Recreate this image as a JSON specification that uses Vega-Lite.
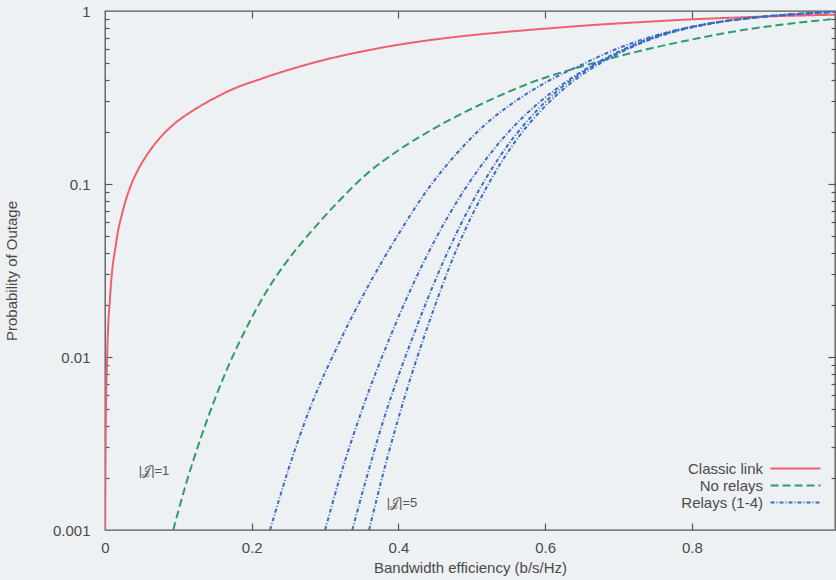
{
  "$schema": "https://vega.github.io/schema/vega-lite/v6.json",
  "width": 730,
  "height": 519,
  "autosize": {"type": "none"},
  "padding": {"left": 105, "top": 11, "right": 1, "bottom": 50},
  "background": "#eef1f4",
  "config": {
    "view": {"stroke": "#555555", "strokeWidth": 1.3},
    "font": "Liberation Sans",
    "axis": {
      "grid": false,
      "domain": false,
      "tickColor": "#555555",
      "tickWidth": 1.2,
      "labelColor": "#4a4a4a",
      "labelFontSize": 15,
      "labelFont": "Liberation Sans",
      "titleColor": "#4a4a4a",
      "titleFontSize": 15,
      "titleFont": "Liberation Sans",
      "titleFontWeight": "normal",
      "labelOverlap": false,
      "labelBound": false,
      "labelFlush": false
    },
    "legend": {
      "orient": "none",
      "legendX": 683,
      "legendY": 450,
      "padding": 0,
      "rowPadding": 1,
      "labelFontSize": 15,
      "labelFont": "Liberation Sans",
      "labelColor": "#4a4a4a",
      "labelAlign": "right",
      "labelOffset": -40,
      "symbolType": "M-5,0H5",
      "symbolSize": 100,
      "symbolStrokeWidth": 2
    }
  },
  "datasets": {
    "curves": [
      {"s": "Classic link", "c": "red", "x": 0.00024, "p": 0.001},
      {"s": "Classic link", "c": "red", "x": 0.001, "p": 0.0037},
      {"s": "Classic link", "c": "red", "x": 0.003, "p": 0.0103},
      {"s": "Classic link", "c": "red", "x": 0.007, "p": 0.0225},
      {"s": "Classic link", "c": "red", "x": 0.015, "p": 0.0452},
      {"s": "Classic link", "c": "red", "x": 0.025, "p": 0.0718},
      {"s": "Classic link", "c": "red", "x": 0.034, "p": 0.095},
      {"s": "Classic link", "c": "red", "x": 0.045, "p": 0.1207},
      {"s": "Classic link", "c": "red", "x": 0.057, "p": 0.147},
      {"s": "Classic link", "c": "red", "x": 0.075, "p": 0.185},
      {"s": "Classic link", "c": "red", "x": 0.093, "p": 0.22},
      {"s": "Classic link", "c": "red", "x": 0.12, "p": 0.266},
      {"s": "Classic link", "c": "red", "x": 0.147, "p": 0.31},
      {"s": "Classic link", "c": "red", "x": 0.18, "p": 0.362},
      {"s": "Classic link", "c": "red", "x": 0.211, "p": 0.403},
      {"s": "Classic link", "c": "red", "x": 0.24, "p": 0.443},
      {"s": "Classic link", "c": "red", "x": 0.266, "p": 0.478},
      {"s": "Classic link", "c": "red", "x": 0.30, "p": 0.523},
      {"s": "Classic link", "c": "red", "x": 0.35, "p": 0.583},
      {"s": "Classic link", "c": "red", "x": 0.40, "p": 0.638},
      {"s": "Classic link", "c": "red", "x": 0.45, "p": 0.685},
      {"s": "Classic link", "c": "red", "x": 0.50, "p": 0.725},
      {"s": "Classic link", "c": "red", "x": 0.583, "p": 0.78},
      {"s": "Classic link", "c": "red", "x": 0.675, "p": 0.835},
      {"s": "Classic link", "c": "red", "x": 0.75, "p": 0.872},
      {"s": "Classic link", "c": "red", "x": 0.80, "p": 0.895},
      {"s": "Classic link", "c": "red", "x": 0.856, "p": 0.915},
      {"s": "Classic link", "c": "red", "x": 0.92, "p": 0.935},
      {"s": "Classic link", "c": "red", "x": 0.995, "p": 0.952},

      {"s": "No relays", "c": "green", "x": 0.093, "p": 0.001},
      {"s": "No relays", "c": "green", "x": 0.11, "p": 0.00182},
      {"s": "No relays", "c": "green", "x": 0.13, "p": 0.00335},
      {"s": "No relays", "c": "green", "x": 0.15, "p": 0.00575},
      {"s": "No relays", "c": "green", "x": 0.17, "p": 0.00923},
      {"s": "No relays", "c": "green", "x": 0.19, "p": 0.01396},
      {"s": "No relays", "c": "green", "x": 0.21, "p": 0.0202},
      {"s": "No relays", "c": "green", "x": 0.23, "p": 0.0279},
      {"s": "No relays", "c": "green", "x": 0.25, "p": 0.0367},
      {"s": "No relays", "c": "green", "x": 0.28, "p": 0.0525},
      {"s": "No relays", "c": "green", "x": 0.315, "p": 0.0767},
      {"s": "No relays", "c": "green", "x": 0.36, "p": 0.1175},
      {"s": "No relays", "c": "green", "x": 0.40, "p": 0.1567},
      {"s": "No relays", "c": "green", "x": 0.45, "p": 0.2113},
      {"s": "No relays", "c": "green", "x": 0.49, "p": 0.26},
      {"s": "No relays", "c": "green", "x": 0.54, "p": 0.327},
      {"s": "No relays", "c": "green", "x": 0.583, "p": 0.389},
      {"s": "No relays", "c": "green", "x": 0.63, "p": 0.452},
      {"s": "No relays", "c": "green", "x": 0.675, "p": 0.513},
      {"s": "No relays", "c": "green", "x": 0.72, "p": 0.575},
      {"s": "No relays", "c": "green", "x": 0.80, "p": 0.684},
      {"s": "No relays", "c": "green", "x": 0.856, "p": 0.759},
      {"s": "No relays", "c": "green", "x": 0.92, "p": 0.832},
      {"s": "No relays", "c": "green", "x": 0.995, "p": 0.899},

      {"s": "Relays (1-4)", "c": "b1", "x": 0.225, "p": 0.001},
      {"s": "Relays (1-4)", "c": "b1", "x": 0.25, "p": 0.00224},
      {"s": "Relays (1-4)", "c": "b1", "x": 0.28, "p": 0.00513},
      {"s": "Relays (1-4)", "c": "b1", "x": 0.32, "p": 0.0123},
      {"s": "Relays (1-4)", "c": "b1", "x": 0.36, "p": 0.0263},
      {"s": "Relays (1-4)", "c": "b1", "x": 0.40, "p": 0.0513},
      {"s": "Relays (1-4)", "c": "b1", "x": 0.44, "p": 0.0933},
      {"s": "Relays (1-4)", "c": "b1", "x": 0.48, "p": 0.151},
      {"s": "Relays (1-4)", "c": "b1", "x": 0.52, "p": 0.224},
      {"s": "Relays (1-4)", "c": "b1", "x": 0.56, "p": 0.302},
      {"s": "Relays (1-4)", "c": "b1", "x": 0.60, "p": 0.385},
      {"s": "Relays (1-4)", "c": "b1", "x": 0.65, "p": 0.49},
      {"s": "Relays (1-4)", "c": "b1", "x": 0.70, "p": 0.61},
      {"s": "Relays (1-4)", "c": "b1", "x": 0.76, "p": 0.741},
      {"s": "Relays (1-4)", "c": "b1", "x": 0.82, "p": 0.841},
      {"s": "Relays (1-4)", "c": "b1", "x": 0.90, "p": 0.929},
      {"s": "Relays (1-4)", "c": "b1", "x": 0.995, "p": 0.989},

      {"s": "Relays (1-4)", "c": "b2", "x": 0.30, "p": 0.001},
      {"s": "Relays (1-4)", "c": "b2", "x": 0.32, "p": 0.002},
      {"s": "Relays (1-4)", "c": "b2", "x": 0.35, "p": 0.0049},
      {"s": "Relays (1-4)", "c": "b2", "x": 0.39, "p": 0.0135},
      {"s": "Relays (1-4)", "c": "b2", "x": 0.43, "p": 0.0324},
      {"s": "Relays (1-4)", "c": "b2", "x": 0.47, "p": 0.0676},
      {"s": "Relays (1-4)", "c": "b2", "x": 0.51, "p": 0.123},
      {"s": "Relays (1-4)", "c": "b2", "x": 0.55, "p": 0.1995},
      {"s": "Relays (1-4)", "c": "b2", "x": 0.59, "p": 0.2917},
      {"s": "Relays (1-4)", "c": "b2", "x": 0.63, "p": 0.3936},
      {"s": "Relays (1-4)", "c": "b2", "x": 0.67, "p": 0.501},
      {"s": "Relays (1-4)", "c": "b2", "x": 0.70, "p": 0.582},
      {"s": "Relays (1-4)", "c": "b2", "x": 0.76, "p": 0.733},
      {"s": "Relays (1-4)", "c": "b2", "x": 0.82, "p": 0.841},
      {"s": "Relays (1-4)", "c": "b2", "x": 0.90, "p": 0.929},
      {"s": "Relays (1-4)", "c": "b2", "x": 0.995, "p": 0.989},

      {"s": "Relays (1-4)", "c": "b3", "x": 0.337, "p": 0.001},
      {"s": "Relays (1-4)", "c": "b3", "x": 0.355, "p": 0.0019},
      {"s": "Relays (1-4)", "c": "b3", "x": 0.38, "p": 0.00437},
      {"s": "Relays (1-4)", "c": "b3", "x": 0.42, "p": 0.0132},
      {"s": "Relays (1-4)", "c": "b3", "x": 0.46, "p": 0.0347},
      {"s": "Relays (1-4)", "c": "b3", "x": 0.50, "p": 0.0776},
      {"s": "Relays (1-4)", "c": "b3", "x": 0.54, "p": 0.148},
      {"s": "Relays (1-4)", "c": "b3", "x": 0.58, "p": 0.243},
      {"s": "Relays (1-4)", "c": "b3", "x": 0.62, "p": 0.355},
      {"s": "Relays (1-4)", "c": "b3", "x": 0.66, "p": 0.468},
      {"s": "Relays (1-4)", "c": "b3", "x": 0.70, "p": 0.575},
      {"s": "Relays (1-4)", "c": "b3", "x": 0.76, "p": 0.73},
      {"s": "Relays (1-4)", "c": "b3", "x": 0.82, "p": 0.839},
      {"s": "Relays (1-4)", "c": "b3", "x": 0.90, "p": 0.929},
      {"s": "Relays (1-4)", "c": "b3", "x": 0.995, "p": 0.989},

      {"s": "Relays (1-4)", "c": "b4", "x": 0.36, "p": 0.001},
      {"s": "Relays (1-4)", "c": "b4", "x": 0.38, "p": 0.00219},
      {"s": "Relays (1-4)", "c": "b4", "x": 0.41, "p": 0.00617},
      {"s": "Relays (1-4)", "c": "b4", "x": 0.44, "p": 0.0151},
      {"s": "Relays (1-4)", "c": "b4", "x": 0.48, "p": 0.0427},
      {"s": "Relays (1-4)", "c": "b4", "x": 0.52, "p": 0.0955},
      {"s": "Relays (1-4)", "c": "b4", "x": 0.56, "p": 0.178},
      {"s": "Relays (1-4)", "c": "b4", "x": 0.60, "p": 0.282},
      {"s": "Relays (1-4)", "c": "b4", "x": 0.64, "p": 0.398},
      {"s": "Relays (1-4)", "c": "b4", "x": 0.68, "p": 0.513},
      {"s": "Relays (1-4)", "c": "b4", "x": 0.71, "p": 0.596},
      {"s": "Relays (1-4)", "c": "b4", "x": 0.76, "p": 0.724},
      {"s": "Relays (1-4)", "c": "b4", "x": 0.82, "p": 0.838},
      {"s": "Relays (1-4)", "c": "b4", "x": 0.90, "p": 0.929},
      {"s": "Relays (1-4)", "c": "b4", "x": 0.995, "p": 0.989}
    ],
    "notes": [
      {"t": "|𝒥|=1", "x": 0.046, "p": 0.0022},
      {"t": "|𝒥|=5", "x": 0.384, "p": 0.00143}
    ]
  },
  "resolve": {"axis": {"x": "independent", "y": "independent"}},
  "layer": [
    {
      "data": {"name": "curves"},
      "mark": {"type": "line", "strokeWidth": 2, "clip": true, "interpolate": "monotone"},
      "encoding": {
        "x": {
          "field": "x", "type": "quantitative",
          "scale": {"domain": [0, 0.995], "nice": false, "zero": false},
          "axis": {
            "orient": "bottom",
            "values": [0, 0.2, 0.4, 0.6, 0.8],
            "format": "~g",
            "ticks": false,
            "labelPadding": 10,
            "title": "Bandwidth efficiency (b/s/Hz)",
            "titlePadding": 5
          }
        },
        "y": {
          "field": "p", "type": "quantitative",
          "scale": {"type": "log", "domain": [0.001, 1], "nice": false},
          "axis": {
            "orient": "left",
            "values": [0.001, 0.01, 0.1, 1],
            "format": "~g",
            "ticks": false,
            "labelPadding": 15,
            "title": "Probability of Outage",
            "titlePadding": 33
          }
        },
        "color": {
          "field": "s", "type": "nominal",
          "scale": {"domain": ["Classic link", "No relays", "Relays (1-4)"], "range": ["#ef5f6c", "#2f9a6e", "#3a6cc6"]},
          "legend": {"title": null}
        },
        "strokeDash": {
          "field": "s", "type": "nominal",
          "scale": {"domain": ["Classic link", "No relays", "Relays (1-4)"], "range": [[1, 0], [8, 4], [4, 2, 1, 2]]},
          "legend": {"title": null}
        },
        "detail": {"field": "c", "type": "nominal"}
      }
    },
    {
      "data": {"name": "curves"},
      "mark": {"type": "line", "opacity": 0, "clip": true},
      "encoding": {
        "x": {
          "field": "x", "type": "quantitative",
          "scale": {"domain": [0, 0.995], "nice": false, "zero": false},
          "axis": {"orient": "bottom", "values": [0.2, 0.4, 0.6, 0.8], "labels": false, "title": null, "tickSize": 7, "offset": -7}
        },
        "y": {
          "field": "p", "type": "quantitative",
          "scale": {"type": "log", "domain": [0.001, 1], "nice": false},
          "axis": {"orient": "left", "values": [0.01, 0.1], "labels": false, "title": null, "tickSize": 7, "offset": -7}
        },
        "detail": {"field": "c", "type": "nominal"}
      }
    },
    {
      "data": {"name": "curves"},
      "mark": {"type": "line", "opacity": 0, "clip": true},
      "encoding": {
        "x": {
          "field": "x", "type": "quantitative",
          "scale": {"domain": [0, 0.995], "nice": false, "zero": false},
          "axis": {"orient": "top", "values": [0.2, 0.4, 0.6, 0.8], "labels": false, "title": null, "tickSize": 7, "offset": -7}
        },
        "y": {
          "field": "p", "type": "quantitative",
          "scale": {"type": "log", "domain": [0.001, 1], "nice": false},
          "axis": {"orient": "left", "values": [0.002, 0.003, 0.004, 0.005, 0.006, 0.007, 0.008, 0.009, 0.02, 0.03, 0.04, 0.05, 0.06, 0.07, 0.08, 0.09, 0.2, 0.3, 0.4, 0.5, 0.6, 0.7, 0.8, 0.9], "labels": false, "title": null, "tickSize": 4, "offset": -4}
        },
        "detail": {"field": "c", "type": "nominal"}
      }
    },
    {
      "data": {"name": "curves"},
      "mark": {"type": "line", "opacity": 0, "clip": true},
      "encoding": {
        "x": {"field": "x", "type": "quantitative", "scale": {"domain": [0, 0.995], "nice": false, "zero": false}, "axis": null},
        "y": {
          "field": "p", "type": "quantitative",
          "scale": {"type": "log", "domain": [0.001, 1], "nice": false},
          "axis": {"orient": "right", "values": [0.01, 0.1], "labels": false, "title": null, "tickSize": 7, "offset": -7}
        },
        "detail": {"field": "c", "type": "nominal"}
      }
    },
    {
      "data": {"name": "curves"},
      "mark": {"type": "line", "opacity": 0, "clip": true},
      "encoding": {
        "x": {"field": "x", "type": "quantitative", "scale": {"domain": [0, 0.995], "nice": false, "zero": false}, "axis": null},
        "y": {
          "field": "p", "type": "quantitative",
          "scale": {"type": "log", "domain": [0.001, 1], "nice": false},
          "axis": {"orient": "right", "values": [0.002, 0.003, 0.004, 0.005, 0.006, 0.007, 0.008, 0.009, 0.02, 0.03, 0.04, 0.05, 0.06, 0.07, 0.08, 0.09, 0.2, 0.3, 0.4, 0.5, 0.6, 0.7, 0.8, 0.9], "labels": false, "title": null, "tickSize": 4, "offset": -4}
        },
        "detail": {"field": "c", "type": "nominal"}
      }
    },
    {
      "data": {"name": "notes"},
      "mark": {"type": "text", "align": "left", "baseline": "middle", "fontSize": 13, "color": "#555555", "font": "Liberation Sans"},
      "encoding": {
        "x": {"field": "x", "type": "quantitative", "scale": {"domain": [0, 0.995], "nice": false, "zero": false}, "axis": null},
        "y": {"field": "p", "type": "quantitative", "scale": {"type": "log", "domain": [0.001, 1], "nice": false}, "axis": null},
        "text": {"field": "t", "type": "nominal"}
      }
    }
  ]
}
